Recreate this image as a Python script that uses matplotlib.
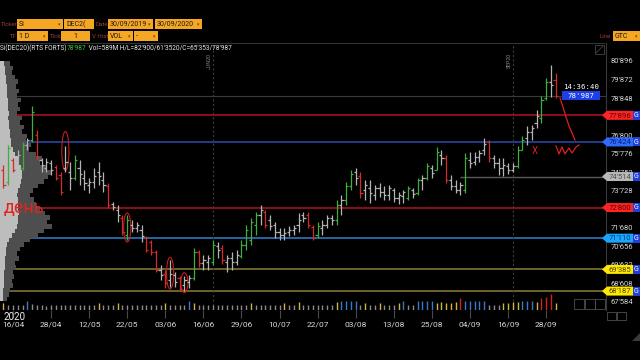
import numpy as np
import matplotlib
matplotlib.use("Agg")
import matplotlib.pyplot as plt
from matplotlib.patches import Rectangle, Ellipse, Polygon
from matplotlib.transforms import blended_transform_factory

plt.rcParams['font.family'] = ['Roboto', 'DejaVu Sans']

# ---------------- data ----------------
first_bar = -2          # bar index of the first bar (16/04 is bar 0)
opens = [
    74870, 74210, 75430, 75430, 74990, 76250, 76530, 76810, 75430, 74990,
    75260, 75040, 74600, 74990, 74760, 74430, 74990, 74430, 74050, 74210,
    74760, 74320, 73990, 73000, 72670, 72220, 71280, 71840, 71670, 71560,
    71120, 70900, 70350, 69350, 69130, 68800, 69080, 68910, 68530, 68690,
    68910, 70350, 69740, 69790, 69790, 70680, 70570, 69790, 70010, 69790,
    70120, 70730, 71010, 71840, 72390, 72550, 72110, 71840, 71450, 71280,
    71450, 71560, 71840, 72390, 72390, 71730, 71280, 71670, 71840, 72220,
    72110, 72940, 73220, 73990, 74760, 74540, 73770, 73880, 73490, 73880,
    73660, 73490, 73770, 73330, 73440, 73330, 73770, 73600, 74320, 74430,
    74990, 74870, 75700, 75540, 74320, 73990, 73770, 73770, 75430, 75320,
    75590, 75980, 76420, 75540, 75260, 74990, 75100, 74870, 75100, 75980,
    76640, 76970, 77470, 77750, 78850, 79730, 79850]
highs = [
    75150, 76250, 75540, 75980, 76420, 76640, 78410, 77080, 75540, 75540,
    75430, 75150, 74760, 76200, 75320, 75700, 75430, 74870, 74430, 74990,
    75320, 74760, 74160, 73110, 72940, 72390, 72390, 72110, 72000, 71840,
    71230, 71010, 70460, 69630, 69350, 69900, 69240, 69020, 69020, 69080,
    70570, 70460, 70180, 70180, 71010, 70900, 70730, 70180, 70350, 70460,
    71010, 71840, 72220, 72550, 72940, 72670, 72390, 72000, 71670, 71670,
    71780, 71840, 72500, 72550, 72550, 71840, 72000, 72110, 72390, 72390,
    73220, 73490, 74210, 74870, 74990, 74760, 74320, 74320, 74050, 74160,
    73990, 74050, 73880, 73660, 73770, 73990, 73880, 74430, 74600, 75260,
    75150, 76140, 75980, 75700, 74600, 74320, 74210, 75810, 75870, 75870,
    75980, 76640, 76530, 75700, 75540, 75540, 75260, 75260, 76200, 76750,
    77300, 77360, 78190, 78960, 79960, 80670, 80230]
lows = [
    73880, 74050, 74760, 75150, 74870, 75980, 76420, 75430, 74760, 74760,
    74600, 74320, 73490, 74760, 73770, 74320, 74050, 73770, 73600, 73880,
    74050, 73660, 72780, 72670, 72000, 71280, 71010, 71450, 71450, 70900,
    70350, 70180, 69240, 68800, 68360, 68410, 68410, 68190, 68190, 68360,
    68800, 69520, 69350, 69350, 69630, 70010, 69680, 69240, 69350, 69630,
    70010, 70460, 70730, 71280, 71840, 71670, 71560, 71120, 71010, 71010,
    71230, 71280, 71450, 72000, 71670, 71010, 71120, 71280, 71670, 71840,
    71840, 72390, 72940, 73770, 74050, 73330, 73220, 73050, 73220, 73380,
    73220, 73220, 73110, 73000, 73050, 73220, 73330, 73490, 73770, 74320,
    74430, 74870, 75150, 74160, 73770, 73600, 73490, 73600, 74990, 75150,
    75320, 75700, 75320, 74990, 74600, 74540, 74650, 74760, 74990, 75980,
    76250, 76530, 77190, 77470, 78740, 78910, 78850]
closes = [
    74050, 76090, 74870, 75700, 76250, 76530, 78080, 75540, 75150, 75320,
    74870, 74430, 73660, 75320, 74430, 75430, 74650, 74150, 74210, 74540,
    74540, 74050, 72940, 72830, 72390, 71450, 72110, 71670, 71840, 71230,
    70460, 70350, 69350, 69080, 68630, 69130, 68690, 68300, 68800, 68910,
    70350, 69740, 69900, 70010, 70730, 70460, 69900, 70010, 69790, 70180,
    70730, 71560, 72000, 72390, 72670, 71840, 71780, 71450, 71280, 71400,
    71560, 71670, 72110, 72220, 71840, 71120, 71780, 71840, 72220, 72110,
    72940, 73220, 73990, 74650, 74430, 73600, 74050, 73600, 73880, 73660,
    73490, 73880, 73330, 73490, 73660, 73880, 73550, 74320, 74430, 75100,
    74710, 75870, 75540, 74320, 73990, 73770, 74050, 75540, 75260, 75590,
    75810, 76310, 75540, 75260, 74990, 75150, 74870, 75100, 75980, 76530,
    76970, 77190, 77860, 78740, 79730, 79570, 78987]
volumes = [
    560, 420, 380, 400, 410, 720, 450, 400, 380, 360,
    400, 380, 420, 390, 370, 400, 380, 420,
    400, 380, 600, 420, 400, 380, 560, 400,
    420, 400, 380, 410, 390, 400, 380, 420,
    580, 400, 380, 420, 400, 720, 600, 420,
    400, 380, 420, 400, 380, 410, 400, 420,
    400, 380, 600, 420, 400, 410, 390, 400,
    400, 600, 400, 380, 620, 420, 400, 380,
    420, 400, 400, 420, 620, 700, 720, 700,
    720, 400, 600, 420, 400, 600, 400, 420,
    400, 600, 720, 400, 420, 700, 720, 740,
    700, 600, 620, 600, 580, 620, 950, 720,
    740, 760, 720, 700, 420, 400, 380, 560,
    600, 620, 640, 720, 740, 760, 620, 950,
    1050, 1250, 560]
date_positions = [0, 8, 16, 24, 32, 40, 48, 56, 64, 72, 80, 88, 96, 104, 112]
date_labels = ['16/04', '28/04', '12/05', '22/05', '03/06', '16/06', '29/06', '10/07',
               '22/07', '03/08', '13/08', '25/08', '04/09', '16/09', '28/09']
price_ticks = [67584, 68608, 69632, 70656, 71680, 72704, 73728, 74752, 75776,
               76800, 77824, 78848, 79872, 80896]
level_prices = [77896, 76424, 74514, 72800, 71110, 69385, 68187]
level_from_bar = [None, None, 94, None, None, None, None]
last_price = 78987
last_time = '14:36:40'
expiry_names = ['JUN20', 'SEP20']
expiry_bars = [42, 105]
profile_prices = np.arange(80750, 67500, -250)
profile_total = [10, 13, 12, 15, 18, 16, 19, 17, 21, 18, 20, 17, 22, 20, 24, 22, 27, 26,
                 31, 29, 36, 42, 40, 47, 52, 48, 44, 38, 33, 30, 34, 36, 40, 45, 50, 47,
                 52, 44, 38, 30, 24, 20, 17, 19, 15, 16, 13, 14, 12, 13, 10, 9, 7]
profile_value = [4, 5, 5, 6, 6, 7, 7, 7, 8, 8, 8, 9, 8, 9, 9, 10, 10, 11, 11, 13, 15, 18,
                 19, 21, 22, 22, 21, 20, 18, 17, 18, 18, 18, 19, 18, 18, 17, 15, 12, 9,
                 7, 6, 6, 5, 5, 5, 4, 4, 4, 4, 3, 3, 3]
circled_bars = [11, 24, 33, 36]
circle_low = [74850, 70900, 68300, 68100]
circle_high = [77000, 72500, 70050, 69200]

# ---------------- styles ----------------
BG = 'black'
ORANGE = '#f5a623'
level_line_colors = ['#b3141c', '#2b4cae', '#5a5a5a', '#b3141c', '#2f80d2', '#8c7e3a', '#8c7e3a']
tag_bg = ['#ff2424', '#2f6bff', '#b8b8b8', '#ff2424', '#1aa6ff', '#ffe800', '#ffe800']
tag_fg = ['#5a0000', '#0b1f70', '#505050', '#5a0000', '#003a70', '#4a4000', '#4a4000']


def fmt(v):
    v = int(round(v))
    return f"{v // 1000}'{v % 1000:03d}"


W, H = 640, 360
fig = plt.figure(figsize=(6.4, 3.6), dpi=100)
fig.patch.set_facecolor(BG)


def frect(x0, y0, x1, y1):
    return [x0 / W, 1 - y1 / H, (x1 - x0) / W, (y1 - y0) / H]


PX0, PY0, PX1, PY1 = 0, 43, 606, 310
bar_px0, bar_step = 13.0, 4.76
xlim = (-(bar_px0 - PX0) / bar_step, (PX1 - bar_px0) / bar_step)
ylim = (67142, 81890)

idx = np.arange(first_bar, first_bar + len(closes))
o = np.array(opens); h = np.array(highs); l = np.array(lows); c = np.array(closes)

# ---- base axes: levels, price axis ----
ax = fig.add_axes(frect(PX0, PY0, PX1, PY1), zorder=1)
ax.set_facecolor(BG)
ax.set_xlim(*xlim)
ax.set_ylim(*ylim)
for s in ['top', 'left', 'bottom']:
    ax.spines[s].set_visible(False)
ax.spines['right'].set_color('#3a3a3a')
ax.spines['right'].set_linewidth(0.8)
ax.set_xticks([])
ax.yaxis.tick_right()
# price labels that sit fully under a level tag are hidden, as in the terminal
visible_ticks = [p for p in price_ticks if min(abs(p - lv) for lv in level_prices) > 150]
ax.set_yticks(visible_ticks)
ax.set_yticklabels([fmt(p) for p in visible_ticks])
ax.tick_params(axis='y', length=0, pad=3, labelsize=5.5, labelcolor='#d6d6d6')

ax.axhline(last_price, color='#3a3a3a', lw=0.8)
for lv, st, col in zip(level_prices, level_from_bar, level_line_colors):
    if st is None:
        ax.axhline(lv, color=col, lw=1.1)
    else:
        ax.hlines(lv, st, xlim[1], color=col, lw=1.0)
trans_x = blended_transform_factory(ax.transData, ax.transAxes)
for name, b in zip(expiry_names, expiry_bars):
    ax.axvline(b, color='#3c3c3c', lw=0.8, ls=(0, (2, 2)))
    ax.text(b - 0.25, 0.963, name, transform=trans_x, rotation=90, ha='right', va='top',
            fontsize=3.8, color='#8a8a8a')

# ---- volume profile ----
axp = fig.add_axes(frect(0, PY0, 60, PY1), zorder=2)
axp.patch.set_alpha(0)
axp.set_xlim(0, 60)
axp.set_ylim(*ylim)
axp.axis('off')
axp.barh(profile_prices, profile_total, height=250, color='#4e4e4e', lw=0)
axp.barh(profile_prices, profile_value, height=250, color='#bdbdbd', lw=0)

# ---- OHLC bars ----
axb = fig.add_axes(frect(PX0, PY0, PX1, PY1), zorder=3)
axb.patch.set_alpha(0)
axb.set_xlim(*xlim)
axb.set_ylim(*ylim)
axb.axis('off')
diff = c - o
cols = np.where(diff > 480, '#3fae3f', np.where(diff < -480, '#d42a2a', '#b4b4b4'))
axb.vlines(idx, l, h, colors=cols, lw=0.9)
axb.hlines(o, idx - 0.45, idx, colors=cols, lw=0.9)
axb.hlines(c, idx, idx + 0.45, colors=cols, lw=0.9)
for b, lo, hi in zip(circled_bars, circle_low, circle_high):
    axb.add_patch(Ellipse((b, (lo + hi) / 2), width=1.5, height=hi - lo, fill=False,
                          ec='#c81c1c', lw=0.8))

# ---- volume bars + date axis ----
axv = fig.add_axes(frect(PX0, 280, PX1, 310), zorder=3)
axv.patch.set_alpha(0)
axv.set_xlim(*xlim)
axv.set_ylim(0, 2400)
vol = np.array(volumes)
vcols = np.where(vol >= 900, '#d42020', np.where(vol >= 680, '#3a78c8',
                 np.where(vol >= 540, '#c8b840', '#8a8a8a')))
axv.vlines(idx, 0, vol, colors=vcols, lw=1.0)
for s in axv.spines.values():
    s.set_visible(False)
axv.set_yticks([])
axv.set_xticks(date_positions)
axv.set_xticklabels(date_labels)
axv.tick_params(axis='x', length=6, width=0.8, color='#4a4a4a', labelcolor='#d8d8d8',
                labelsize=6, pad=2)

# ---- overlay (UI, tags, annotations) ----
ov = fig.add_axes([0, 0, 1, 1], zorder=10)
ov.patch.set_alpha(0)
ov.set_xlim(0, W)
ov.set_ylim(H, 0)
ov.axis('off')


def py(price):
    return H - ax.transData.transform((0, price))[1]


# level tags on the price axis
for lv, bg, fg in zip(level_prices, tag_bg, tag_fg):
    yy = py(lv)
    ov.add_patch(Polygon([(602, yy), (607, yy - 4.5), (633, yy - 4.5), (633, yy + 4.5),
                          (607, yy + 4.5)], closed=True, fc=bg, ec='none'))
    ov.add_patch(Rectangle((633, yy - 4.5), 7, 9, fc='#1f3fd8', ec='none'))
    ov.text(620, yy + 0.3, fmt(lv), color=fg, fontsize=5.5, ha='center', va='center')
    ov.text(636.5, yy + 0.3, 'G', color='white', fontsize=5, ha='center', va='center')

# last price box
yy = py(last_price)
ov.text(581, yy - 9, last_time, color='white', fontsize=5.3, family='DejaVu Sans Mono',
        ha='center', va='center')
ov.add_patch(Rectangle((562, yy - 4.5), 38, 9, fc='#1d3fe8', ec='none'))
ov.text(581, yy + 0.2, fmt(last_price), color='white', fontsize=5.3,
        family='DejaVu Sans Mono', ha='center', va='center')

# hand-drawn annotations
RED = '#e02020'
ov.plot([560, 563, 566, 569, 572, 575], [98, 107, 117, 126, 133, 140], color=RED, lw=0.9)
ov.plot([556, 559, 562, 565, 569, 572, 576, 579], [146, 154, 147, 154, 148, 153, 147, 145],
        color=RED, lw=0.9)
ov.text(535, 151, 'X', color=RED, fontsize=7, ha='center', va='center')
ov.text(4, 213, 'день', color='#e52222', fontsize=13, ha='left', va='baseline')

# top separator
ov.plot([0, 604], [42.5, 42.5], color='#333333', lw=0.8)

# toolbar
LBL = '#a03a3a'


def box(x0, y0, x1, y1, text, drop=False, center=False):
    ov.add_patch(Rectangle((x0, y0), x1 - x0, y1 - y0, fc=ORANGE, ec='none'))
    ym = (y0 + y1) / 2 + 0.4
    if center:
        ov.text((x0 + x1) / 2, ym, text, color='#1a1a1a', fontsize=5, ha='center', va='center')
    else:
        ov.text(x0 + 2, ym, text, color='#1a1a1a', fontsize=5, ha='left', va='center')
    if drop:
        ov.text(x1 - 3.5, ym, '▾', color='#7a4a00', fontsize=3.5, ha='center', va='center',
                family=['DejaVu Sans'])


ov.text(0.5, 24.5, 'Ticker', color=LBL, fontsize=4.4, va='center')
box(17, 19, 63, 29, 'Si', drop=True)
box(64, 19, 94, 29, 'DEC2(')
ov.text(95.5, 24.5, 'Date', color=LBL, fontsize=4.4, va='center')
box(108, 19, 153, 29, '30/09/2019', drop=True)
box(155, 19, 202, 29, '30/09/2020', drop=True)
ov.text(10, 36.5, 'TF', color=LBL, fontsize=4.4, va='center')
box(17, 31, 48, 41, '1 D', drop=True)
ov.text(49.5, 36.5, 'Tick', color=LBL, fontsize=4.4, va='center')
box(61, 31, 90, 41, '1', center=True)
ov.text(91.5, 36.5, 'V Hist', color=LBL, fontsize=4.4, va='center')
box(108, 31, 133, 41, 'VOL', drop=True)
box(134, 31, 158, 41, '-', drop=True)
ov.text(600, 36.5, 'Line', color=LBL, fontsize=4.4, va='center')
box(613, 31, 640, 41, 'GTC', drop=True)

# info line
renderer = fig.canvas.get_renderer()
x = 0.5
for s, col in [("Si(DEC20)(RTS FORTS)", '#e8e8e8'), ("78'987", '#3cc43c'),
               (" Vol=589M H/L=82'900/61'3520/C=65'353/78'987", '#e8e8e8')]:
    t = ov.text(x, 48.5, s, color=col, fontsize=4.7, va='center', ha='left')
    x += t.get_window_extent(renderer).width

ov.text(4, 317, '2020', color='#f0f0f0', fontsize=7, ha='left', va='center')

# small UI widgets
ov.add_patch(Rectangle((595, 45), 9, 9, fill=False, ec='#3a3a3a', lw=0.7))
ov.plot([596, 603], [53, 46], color='#3a3a3a', lw=0.7)
for k in range(3):
    ov.add_patch(Rectangle((574 + k * 10.5, 299), 10, 10, fill=False, ec='#505050', lw=0.6))
for k in range(2):
    ov.add_patch(Rectangle((607 + k * 10, 312), 9, 8, fill=False, ec='#505050', lw=0.6))
ov.add_patch(Polygon([(640, 333), (640, 341), (632, 341)], closed=True, fc='#3a3a3a', ec='none'))

fig.savefig('out.png', dpi=100, facecolor=BG)
